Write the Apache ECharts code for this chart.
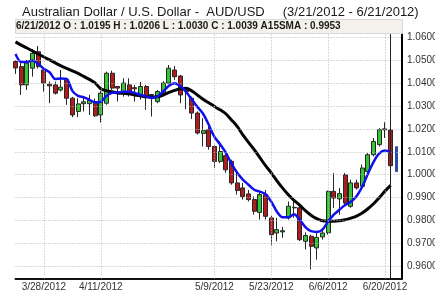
<!DOCTYPE html>
<html>
<head>
<meta charset="utf-8">
<script src="https://cdn.jsdelivr.net/npm/echarts@6/dist/echarts.min.js"></script>
<style>
html,body{margin:0;padding:0;background:#fff;}
#c{width:435px;height:295px;}
</style>
</head>
<body>
<div id="c"></div>
<script>
const categories = ['3/21/2012','3/22/2012','3/23/2012','3/26/2012','3/27/2012','3/28/2012','3/29/2012','3/30/2012',
'4/2/2012','4/3/2012','4/4/2012','4/5/2012','4/6/2012','4/9/2012','4/10/2012','4/11/2012','4/12/2012','4/13/2012',
'4/16/2012','4/17/2012','4/18/2012','4/19/2012','4/20/2012','4/23/2012','4/24/2012','4/25/2012','4/26/2012','4/27/2012','4/30/2012',
'5/1/2012','5/2/2012','5/3/2012','5/4/2012','5/7/2012','5/8/2012','5/9/2012','5/10/2012','5/11/2012','5/14/2012','5/15/2012',
'5/16/2012','5/17/2012','5/18/2012','5/21/2012','5/22/2012','5/23/2012','5/24/2012','5/25/2012','5/28/2012','5/29/2012','5/30/2012','5/31/2012',
'6/1/2012','6/4/2012','6/5/2012','6/6/2012','6/7/2012','6/8/2012','6/11/2012','6/12/2012','6/13/2012','6/14/2012','6/15/2012',
'6/18/2012','6/19/2012','6/20/2012','6/21/2012','6/22/2012','6/25/2012'];

const labelDates = ['3/28/2012','4/11/2012','5/9/2012','5/23/2012','6/6/2012','6/20/2012'];
const yTicks = [0.96,0.97,0.98,0.99,1.00,1.01,1.02,1.03,1.04,1.05,1.06];

// OHLC readings
const opens  = [1.0494,1.0472,1.0392,1.0465,1.0537,1.0457,1.0395,1.0392,1.0370,1.0414,1.0334,1.0276,1.0310,1.0310,1.0312,1.0261,1.0312,1.0443,1.0385,1.0363,1.0392,1.0380,1.0348,1.0385,1.0350,1.0319,1.0356,1.0400,1.0457,1.0431,1.0370,1.0334,1.0269,1.0180,1.0196,1.0123,1.0058,1.0083,1.0058,0.9964,0.9942,0.9916,0.9891,0.9835,0.9913,0.9811,0.9745,0.9750,0.9811,0.9855,0.9855,0.9709,0.9731,0.9680,0.9728,0.9746,0.9927,0.9894,0.9999,0.9862,0.9964,0.9949,1.0014,1.0087,1.0131,1.0196,1.0195];
const highs  = [1.0500,1.0487,1.0501,1.0548,1.0562,1.0466,1.0407,1.0406,1.0457,1.0420,1.0340,1.0334,1.0341,1.0349,1.0332,1.0365,1.0450,1.0454,1.0385,1.0421,1.0421,1.0392,1.0405,1.0392,1.0352,1.0370,1.0408,1.0479,1.0475,1.0435,1.0378,1.0341,1.0276,1.0247,1.0210,1.0130,1.0145,1.0090,1.0065,1.0014,0.9964,0.9933,0.9905,0.9927,0.9933,0.9820,0.9811,0.9772,0.9883,0.9890,0.9870,0.9748,0.9738,0.9745,0.9760,0.9930,1.0007,0.9942,1.0007,0.9978,0.9978,1.0044,1.0094,1.0160,1.0203,1.0229,1.0206];
const lows   = [1.0440,1.0348,1.0370,1.0428,1.0464,1.0363,1.0312,1.0350,1.0363,1.0305,1.0251,1.0251,1.0276,1.0261,1.0252,1.0228,1.0305,1.0370,1.0320,1.0341,1.0341,1.0319,1.0328,1.0283,1.0254,1.0312,1.0350,1.0395,1.0414,1.0312,1.0286,1.0243,1.0175,1.0123,1.0109,1.0029,1.0051,1.0008,0.9956,0.9913,0.9891,0.9883,0.9825,0.9804,0.9804,0.9690,0.9709,0.9724,0.9804,0.9811,0.9710,0.9673,0.9586,0.9629,0.9716,0.9738,0.9855,0.9825,0.9870,0.9855,0.9935,0.9935,1.0007,1.0080,1.0123,1.0160,1.0030];
const closes = [1.0466,1.0392,1.0487,1.0530,1.0472,1.0400,1.0388,1.0356,1.0382,1.0334,1.0261,1.0309,1.0318,1.0325,1.0257,1.0356,1.0443,1.0378,1.0378,1.0400,1.0363,1.0375,1.0385,1.0341,1.0345,1.0363,1.0400,1.0465,1.0428,1.0348,1.0362,1.0269,1.0182,1.0192,1.0123,1.0058,1.0101,1.0021,0.9964,0.9931,0.9905,0.9891,0.9840,0.9913,0.9818,0.9738,0.9760,0.9755,0.9862,0.9857,0.9716,0.9734,0.9687,0.9726,0.9745,0.9927,0.9898,0.9917,0.9876,0.9964,0.9942,1.0029,1.0087,1.0145,1.0196,1.0200,1.0039];

// 6/22 partial bar
const lastBarDate = '6/22/2012';
const lastBarHigh = 1.0122;
const lastBarLow = 1.0014;

// moving averages
const sma15 = [1.0580,1.0566,1.0553,1.0540,1.0527,1.0514,1.0501,1.0488,1.0475,1.0464,1.0453,1.0442,1.0429,1.0416,1.0401,1.0375,1.0366,1.0362,1.0357,1.0355,1.0353,1.0348,1.0344,1.0340,1.0338,1.0340,1.0348,1.0359,1.0368,1.0375,1.0377,1.0366,1.0348,1.0329,1.0314,1.0298,1.0283,1.0266,1.0239,1.0211,1.0174,1.0141,1.0109,1.0074,1.0039,1.0008,0.9973,0.9941,0.9912,0.9888,0.9867,0.9843,0.9823,0.9808,0.9799,0.9797,0.9797,0.9799,0.9803,0.9810,0.9819,0.9832,0.9851,0.9873,0.9899,0.9928,0.9953];
const fastMA = [1.0527,1.0492,1.0492,1.0499,1.0484,1.0462,1.0447,1.0418,1.0420,1.0418,1.0366,1.0344,1.0338,1.0327,1.0316,1.0318,1.0344,1.0357,1.0359,1.0362,1.0362,1.0357,1.0348,1.0342,1.0335,1.0342,1.0364,1.0388,1.0399,1.0386,1.0362,1.0329,1.0296,1.0266,1.0218,1.0165,1.0133,1.0096,1.0048,1.0008,0.9978,0.9956,0.9934,0.9926,0.9915,0.9882,0.9838,0.9814,0.9814,0.9827,0.9803,0.9771,0.9753,0.9750,0.9760,0.9795,0.9825,0.9847,0.9867,0.9882,0.9906,0.9947,1.0004,1.0056,1.0093,1.0106,1.0098];

const candleData = opens.map((o, i) => [o, closes[i], lows[i], highs[i]]);
const lastBarData = [[categories.indexOf(lastBarDate), lastBarHigh, lastBarLow, lastBarLow, lastBarHigh]];

const chart = echarts.init(document.getElementById('c'), null, {renderer: 'canvas'});
const FONT = 'Liberation Sans, Arial, sans-serif';
const showIdx = (idx) => labelDates.indexOf(categories[idx]) >= 0;
const gridStyle = {color: '#b4b4b4', type: [1, 2], width: 1};

const markLines = []
  .concat(labelDates.map(d => ({xAxis: d, lineStyle: gridStyle})))
  .concat(yTicks.map(v => ({yAxis: v, lineStyle: gridStyle})))
  .concat([{xAxis: '6/21/2012', lineStyle: {color: '#222', type: 'solid', width: 1}}]);

chart.setOption({
  animation: false,
  backgroundColor: '#fff',
  title: {
    text: 'Australian Dollar / U.S. Dollar -  AUD/USD     (3/21/2012 - 6/21/2012)',
    left: 17, top: 1,
    textStyle: {fontFamily: FONT, fontSize: 13, fontWeight: 'normal', color: '#1a1a1a'}
  },
  graphic: [
    {type: 'rect', left: 15, top: 19, shape: {width: 387, height: 14},
     style: {fill: '#f3f1ea', stroke: '#d8d8d8', lineWidth: 1}, z: 10},
    {type: 'text', left: 16, top: 21.5,
     style: {text: '6/21/2012 O : 1.0195 H : 1.0206 L : 1.0030 C : 1.0039 A15SMA : 0.9953',
             fontSize: 10, fontWeight: 'bold', fontFamily: FONT, fill: '#1a1a1a'}, z: 11}
  ],
  grid: {left: 15.5, right: 33, top: 33, bottom: 16.5, show: false,
         containLabel: false, outerBoundsMode: 'none'},
  xAxis: {
    type: 'category', data: categories, boundaryGap: false,
    axisLine: {show: true, onZero: false, lineStyle: {color: '#111', width: 2}},
    axisTick: {show: false},
    axisLabel: {interval: (idx) => showIdx(idx), fontFamily: FONT, fontSize: 10, color: '#333', margin: 4},
    splitLine: {show: false}
  },
  yAxis: [
    {
      type: 'value', position: 'right', scale: true,
      min: 0.95464, max: 1.06187,
      axisLine: {show: true, onZero: false, lineStyle: {color: '#000', width: 2}},
      axisTick: {show: false, customValues: yTicks},
      axisLabel: {customValues: yTicks, formatter: (v) => v.toFixed(4), fontFamily: FONT, fontSize: 10, color: '#333', margin: 5},
      splitLine: {show: false}
    }
  ],
  series: [
    {
      type: 'candlestick', data: candleData, barWidth: 4.5, clip: true,
      itemStyle: {color: '#33c633', color0: '#b01c1c', borderColor: '#262626', borderColor0: '#262626', borderWidth: 1},
      markLine: {
        silent: true, symbol: ['none', 'none'], label: {show: false},
        data: markLines
      },
      z: 2
    },
    {
      type: 'candlestick', data: lastBarData, barWidth: 2, clip: true,
      encode: {x: 0, y: [1, 2, 3, 4]},
      itemStyle: {color: '#2a4aa8', color0: '#2a4aa8', borderColor: '#2a4aa8', borderColor0: '#2a4aa8', borderWidth: 1},
      z: 2
    },
    {
      type: 'line', data: sma15, smooth: 0.3, symbol: 'none', clip: true,
      lineStyle: {color: '#050505', width: 3}, z: 3
    },
    {
      type: 'line', data: fastMA, smooth: 0.3, symbol: 'none', clip: true,
      lineStyle: {color: '#1010ee', width: 2.5}, z: 4
    }
  ]
});
</script>
</body>
</html>
